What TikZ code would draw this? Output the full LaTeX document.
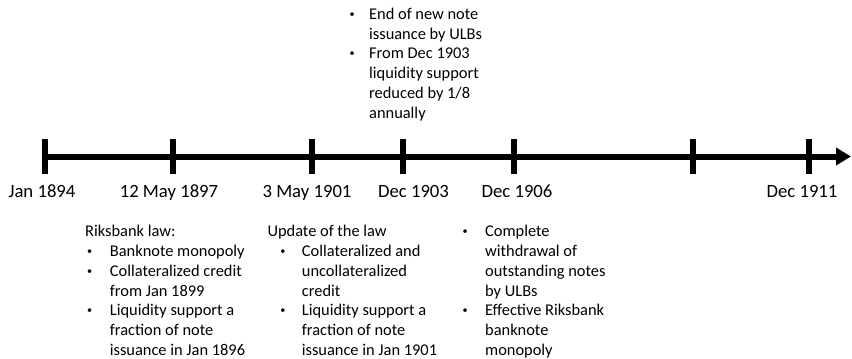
\documentclass[tikz,border=0pt]{standalone}
\usepackage{fontspec}
\setmainfont{Carlito}
\usetikzlibrary{arrows.meta}
\newcommand{\bodyfont}{\fontsize{16.4}{19.8}\selectfont}
\newcommand{\labfont}{\fontsize{18.7}{22}\selectfont}
\newlength\bulpos
\newlength\txtpos
\newcommand{\blockset}[2]{\setlength\bulpos{#1}\setlength\txtpos{#2}}
\newcommand{\bulglyph}{{\fontsize{10.2}{12}\selectfont\raisebox{2.2pt}{•}}}
\newcommand{\bl}{\makebox[\txtpos][l]{\hspace*{\bulpos}\makebox[0pt]{\bulglyph}}}
\newcommand{\ind}{\hspace*{\txtpos}}
\tikzset{
  axis/.style={line width=6pt, -{Triangle[length=15pt,width=17pt]}},
  tick/.style={line width=6pt},
  datelabel/.style={font=\labfont, anchor=base, inner sep=0pt},
  block/.style={font=\bodyfont, anchor=base west, inner sep=0pt, align=left}
}
\begin{document}
\begin{tikzpicture}[x=1pt,y=-1pt]
\useasboundingbox (0,0) rectangle (852,359);
\clip (0,0) rectangle (852,359);
% tick positions
\coordinate (t1) at (45,156.5);
\coordinate (t2) at (173,156.5);
\coordinate (t3) at (312,156.5);
\coordinate (t4) at (403,156.5);
\coordinate (t5) at (514,156.5);
\coordinate (t6) at (693,156.5);
\coordinate (t7) at (808.7,156.5);
\coordinate (start) at (42,156.5);
\coordinate (tip) at (851,156.5);
\draw[axis] (start) -- (tip);
\foreach \t in {t1,t2,t3,t4,t5,t6,t7}{
  \draw[tick] ([yshift=-17.5pt]\t) -- ([yshift=17.5pt]\t);
}
% date labels
\node[datelabel] (l1) at (42,197) {Jan 1894};
\node[datelabel] (l2) at (169,197) {12 May 1897};
\node[datelabel] (l3) at (307,197) {3 May 1901};
\node[datelabel] (l4) at (413.5,197) {Dec 1903};
\node[datelabel] (l5) at (517,197) {Dec 1906};
\node[datelabel] (l7) at (802,197) {Dec 1911};
% top block
\node[block] (top) at (345.5,19.3) {\blockset{6.5pt}{23.5pt}\begin{tabular}[t]{@{}l@{}}
\bl End of new note\\
\ind issuance by ULBs\\
\bl From Dec 1903\\
\ind liquidity support\\
\ind reduced by 1/8\\
\ind annually
\end{tabular}};
% bottom left block
\node[block] (law) at (85,236.7) {\blockset{4.5pt}{24.7pt}\begin{tabular}[t]{@{}l@{}}
Riksbank law:\\
\bl Banknote monopoly\\
\bl Collateralized credit\\
\ind from Jan 1899\\
\bl Liquidity support a\\
\ind fraction of note\\
\ind issuance in Jan 1896
\end{tabular}};
% bottom middle block
\node[block] (upd) at (267.3,236.7) {\blockset{15.5pt}{34.4pt}\begin{tabular}[t]{@{}l@{}}
Update of the law\\
\bl Collateralized and\\
\ind uncollateralized\\
\ind credit\\
\bl Liquidity support a\\
\ind fraction of note\\
\ind issuance in Jan 1901
\end{tabular}};
% bottom right block
\node[block] (wd) at (460,236.7) {\blockset{5pt}{25pt}\begin{tabular}[t]{@{}l@{}}
\bl Complete\\
\ind withdrawal of\\
\ind outstanding notes\\
\ind by ULBs\\
\bl Effective Riksbank\\
\ind banknote\\
\ind monopoly
\end{tabular}};
\end{tikzpicture}
\end{document}
